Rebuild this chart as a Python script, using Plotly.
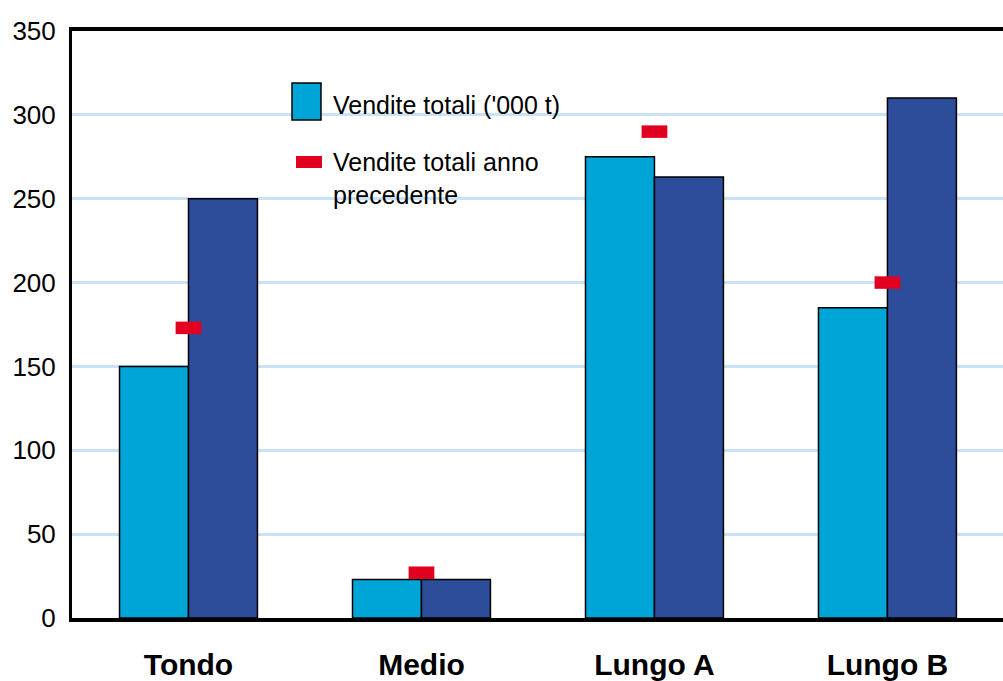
import plotly.graph_objects as go

# Sales by product shape
categories = ["Tondo", "Medio", "Lungo A", "Lungo B"]
vendite_a = [150, 23, 275, 185]          # light blue bars
vendite_b = [250, 23, 263, 310]          # dark blue bars
anno_precedente = [173, 27, 290, 200]    # previous-year markers
y_ticks = [0, 50, 100, 150, 200, 250, 300, 350]

LIGHT = "#00a5d8"
DARK = "#2d4d9b"
RED = "#e10020"
GRID = "#c9e2f5"
FONT = "Liberation Sans, Arial, sans-serif"

fig = go.Figure()
fig.add_trace(go.Bar(x=categories, y=vendite_a, marker=dict(color=LIGHT, line=dict(color="black", width=1.5)),
                     showlegend=False))
fig.add_trace(go.Bar(x=categories, y=vendite_b, marker=dict(color=DARK, line=dict(color="black", width=1.5)),
                     showlegend=False))
fig.add_trace(go.Scatter(x=categories, y=anno_precedente, mode="markers",
                         marker=dict(symbol="line-ew", size=18.4, line=dict(color=RED, width=12.5)),
                         showlegend=False, cliponaxis=False))

# Legend drawn by hand inside the plot area
def px_x(px):
    return (px - 72) / 931

def px_y(py):
    return (618 - py) / 587

fig.add_shape(type="rect", xref="paper", yref="paper",
              x0=px_x(292), x1=px_x(321), y0=px_y(120), y1=px_y(83),
              fillcolor=LIGHT, line=dict(color="black", width=1.5))
fig.add_shape(type="rect", xref="paper", yref="paper",
              x0=px_x(296), x1=px_x(322), y0=px_y(168), y1=px_y(156),
              fillcolor=RED, line=dict(width=0))

legend_font = dict(family=FONT, size=25, color="black")
fig.add_annotation(text="Vendite totali ('000 t)", xref="paper", yref="paper",
                   x=px_x(331), y=px_y(105), xanchor="left", yanchor="middle",
                   showarrow=False, font=legend_font)
fig.add_annotation(text="Vendite totali anno", xref="paper", yref="paper",
                   x=px_x(331), y=px_y(162), xanchor="left", yanchor="middle",
                   showarrow=False, font=legend_font)
fig.add_annotation(text="precedente", xref="paper", yref="paper",
                   x=px_x(331), y=px_y(195), xanchor="left", yanchor="middle",
                   showarrow=False, font=legend_font)

fig.update_layout(
    width=1003, height=681,
    margin=dict(l=72, r=0, t=31, b=63),
    paper_bgcolor="white", plot_bgcolor="white",
    barmode="group", bargap=0.408, bargroupgap=0,
    xaxis=dict(range=[-0.5, 3.496], showline=True, linecolor="black", linewidth=4,
               mirror=True, showgrid=False, ticks="", ticklabelstandoff=17,
               automargin=False,
               tickfont=dict(family=FONT, size=30, color="black", weight="bold")),
    yaxis=dict(range=[0, 350], tickvals=y_ticks, showline=True, linecolor="black",
               linewidth=3, showgrid=True, gridcolor=GRID, gridwidth=3, zeroline=False,
               ticks="", ticklabelstandoff=8, automargin=False,
               tickfont=dict(family=FONT, size=26, color="black")),
)

fig.write_html("out.html")
